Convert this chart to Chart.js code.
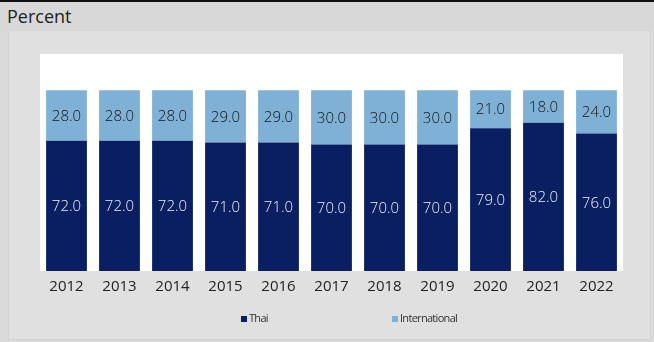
<!DOCTYPE html>
<html>
<head>
<meta charset="utf-8">
<script src="https://cdn.jsdelivr.net/npm/chart.js@4.4.1/dist/chart.umd.min.js"></script>
<style>
    html, body { margin: 0; padding: 0; }
    body {
        width: 654px;
        height: 342px;
        background: #dadada;
        position: relative;
        overflow: hidden;
        font-family: 'Open Sans', sans-serif;
    }
    #top-rule { position: absolute; left: 0; top: 0; width: 654px; height: 2px; background: #111; }
    #title-bar {
        position: absolute; left: 0; top: 2px; width: 654px; height: 29px;
        background: #d8d8d8;
    }
    #title-bar span {
        position: absolute; left: 7px; top: 2px;
        font-size: 18px; color: #222;
    }
    #panel {
        position: absolute; left: 8px; top: 31px; width: 641px; height: 308px;
        background: #e0e0e0; border: 1px solid #d2d2d2; border-top: none;
    }
    #chart-wrap { position: absolute; left: 0; top: 0; width: 654px; height: 342px; }
</style>
</head>
<body>
<div id="top-rule"></div>
<div id="title-bar"><span>Percent</span></div>
<div id="panel"></div>
<div id="chart-wrap"><canvas id="share-chart" width="654" height="342"></canvas></div>

<script>
// Share of tourists by origin, percent
const years = ['2012', '2013', '2014', '2015', '2016', '2017', '2018', '2019', '2020', '2021', '2022'];
const thaiShare = [72.0, 72.0, 72.0, 71.0, 71.0, 70.0, 70.0, 70.0, 79.0, 82.0, 76.0];
const internationalShare = [28.0, 28.0, 28.0, 29.0, 29.0, 30.0, 30.0, 30.0, 21.0, 18.0, 24.0];

const THAI_COLOR = '#0a1f61';
const INTL_COLOR = '#7fb0d5';

// White plotting background behind the bars
const plotBackground = {
    id: 'plotBackground',
    beforeDraw(chart) {
        const { ctx, chartArea } = chart;
        ctx.save();
        ctx.fillStyle = '#ffffff';
        ctx.fillRect(chartArea.left, chartArea.top, chartArea.right - chartArea.left, chartArea.bottom - chartArea.top);
        ctx.restore();
    }
};

// Value labels centred in each stacked segment
const segmentLabels = {
    id: 'segmentLabels',
    afterDatasetsDraw(chart) {
        const { ctx } = chart;
        ctx.save();
        ctx.font = '300 15px "Open Sans", sans-serif';
        ctx.textAlign = 'center';
        ctx.textBaseline = 'middle';
        chart.data.datasets.forEach((ds, i) => {
            const meta = chart.getDatasetMeta(i);
            ctx.fillStyle = ds.labelColor;
            meta.data.forEach((bar, j) => {
                const mid = (bar.y + bar.base) / 2;
                ctx.fillText(ds.data[j].toFixed(1), bar.x, mid + 1);
            });
        });
        ctx.restore();
    }
};

// Legend row under the axis
const legendRow = {
    id: 'legendRow',
    afterDraw(chart) {
        const { ctx } = chart;
        const slots = [241, 392];
        const y = 319;
        ctx.save();
        ctx.font = '11px "Open Sans", sans-serif';
        ctx.letterSpacing = '-0.7px';
        ctx.textBaseline = 'middle';
        ctx.textAlign = 'left';
        chart.data.datasets.forEach((ds, i) => {
            const x = slots[i];
            ctx.fillStyle = ds.backgroundColor;
            ctx.fillRect(x, y - 3, 6, 6);
            ctx.fillStyle = '#333';
            ctx.fillText(ds.label, x + 8, y);
        });
        ctx.restore();
    }
};

const ctx = document.getElementById('share-chart').getContext('2d');
new Chart(ctx, {
    type: 'bar',
    data: {
        labels: years,
        datasets: [
            {
                label: 'Thai',
                data: thaiShare,
                backgroundColor: THAI_COLOR,
                labelColor: '#eceff6',
                borderWidth: 0,
                barPercentage: 0.77,
                categoryPercentage: 1.0
            },
            {
                label: 'International',
                data: internationalShare,
                backgroundColor: INTL_COLOR,
                labelColor: '#151515',
                borderWidth: 0,
                barPercentage: 0.77,
                categoryPercentage: 1.0
            }
        ]
    },
    options: {
        responsive: false,
        animation: false,
        layout: {
            padding: { left: 40, right: 31, top: 54, bottom: 0 }
        },
        plugins: {
            legend: { display: false },
            tooltip: { enabled: false }
        },
        scales: {
            x: {
                stacked: true,
                grid: { display: false, drawTicks: false },
                border: { display: false },
                ticks: {
                    color: '#222',
                    padding: 7,
                    maxRotation: 0,
                    font: { family: '"Open Sans", sans-serif', size: 15 }
                },
                afterFit(scale) {
                    scale.height = 71;
                }
            },
            y: {
                stacked: true,
                display: false,
                min: 0,
                max: 120
            }
        }
    },
    plugins: [plotBackground, segmentLabels, legendRow]
});
</script>
</body>
</html>
